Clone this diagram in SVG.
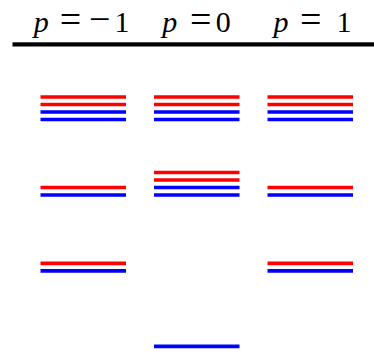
<svg xmlns="http://www.w3.org/2000/svg" width="374" height="358" viewBox="0 0 374 358">
<style>
text{font-family:'Liberation Serif', serif;font-size:30px;fill:#000;text-anchor:middle}
.i{font-style:italic}
.s{font-size:38px}
.r{stroke:#ff0000;stroke-width:3.7;fill:none}
.b{stroke:#0000ff;stroke-width:3.7;fill:none}
</style>
<rect width="374" height="358" fill="#fff"/>
<g id="header">
<g id="label-m1">
<text class="i" x="41.3" y="32">p</text><text class="s" x="70.5" y="32">=</text><text class="s" x="99.7" y="32">−</text><text x="122" y="32">1</text>
</g>
<g id="label-0">
<text class="i" x="169.7" y="32">p</text><text class="s" x="200.8" y="32">=</text><text x="223.3" y="32">0</text>
</g>
<g id="label-p1">
<text class="i" x="281" y="32">p</text><text class="s" x="310.8" y="32">=</text><text x="344" y="32">1</text>
</g>
<rect x="12.5" y="42.3" width="361.5" height="4.2" fill="#000"/>
</g>
<g id="col-m1">
<line class="r" x1="40.5" y1="97" x2="126" y2="97"/>
<line class="r" x1="40.5" y1="104.5" x2="126" y2="104.5"/>
<line class="b" x1="40.5" y1="112" x2="126" y2="112"/>
<line class="b" x1="40.5" y1="119.5" x2="126" y2="119.5"/>
<line class="r" x1="40.5" y1="187.5" x2="126" y2="187.5"/>
<line class="b" x1="40.5" y1="195" x2="126" y2="195"/>
<line class="r" x1="40.5" y1="263.3" x2="126" y2="263.3"/>
<line class="b" x1="40.5" y1="270.8" x2="126" y2="270.8"/>
</g>
<g id="col-0">
<line class="r" x1="154" y1="97" x2="239.5" y2="97"/>
<line class="r" x1="154" y1="104.5" x2="239.5" y2="104.5"/>
<line class="b" x1="154" y1="112" x2="239.5" y2="112"/>
<line class="b" x1="154" y1="119.5" x2="239.5" y2="119.5"/>
<line class="r" x1="154" y1="172.5" x2="239.5" y2="172.5"/>
<line class="r" x1="154" y1="180" x2="239.5" y2="180"/>
<line class="b" x1="154" y1="187.5" x2="239.5" y2="187.5"/>
<line class="b" x1="154" y1="195" x2="239.5" y2="195"/>
<line class="b" x1="154" y1="346.3" x2="239.5" y2="346.3"/>
</g>
<g id="col-p1">
<line class="r" x1="267.5" y1="97" x2="353" y2="97"/>
<line class="r" x1="267.5" y1="104.5" x2="353" y2="104.5"/>
<line class="b" x1="267.5" y1="112" x2="353" y2="112"/>
<line class="b" x1="267.5" y1="119.5" x2="353" y2="119.5"/>
<line class="r" x1="267.5" y1="187.5" x2="353" y2="187.5"/>
<line class="b" x1="267.5" y1="195" x2="353" y2="195"/>
<line class="r" x1="267.5" y1="263.3" x2="353" y2="263.3"/>
<line class="b" x1="267.5" y1="270.8" x2="353" y2="270.8"/>
</g>
</svg>
